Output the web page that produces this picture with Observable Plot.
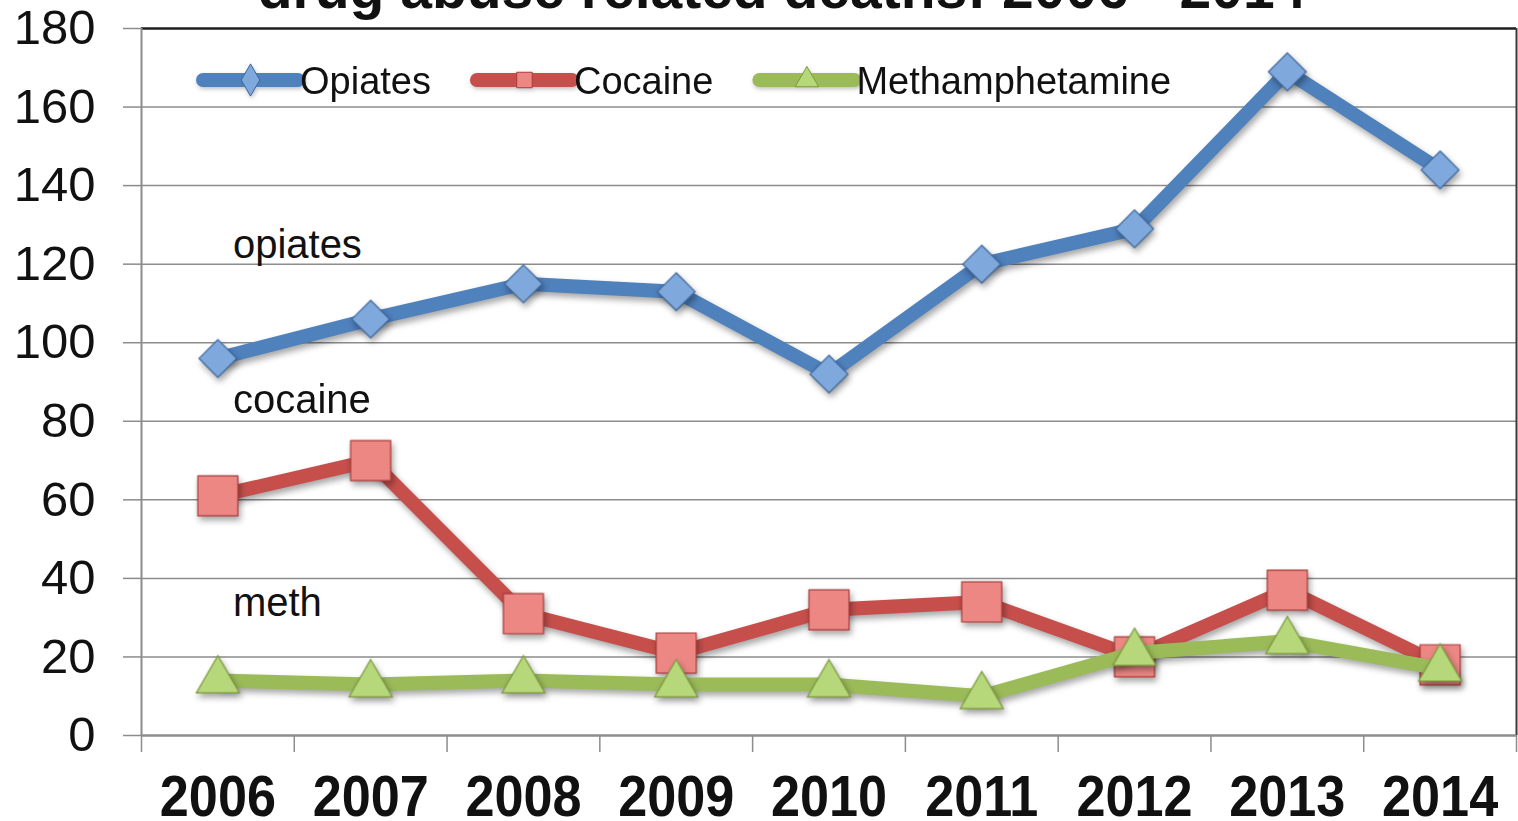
<!DOCTYPE html>
<html>
<head>
<meta charset="utf-8">
<script src="https://cdn.jsdelivr.net/npm/d3@7"></script>
<script src="https://cdn.jsdelivr.net/npm/@observablehq/plot@0.6"></script>
<style>
  html, body { margin: 0; padding: 0; background: #fff; }
  #chart { position: relative; width: 1518px; height: 821px; overflow: hidden; }
  #legend { position: absolute; left: 0; top: 0; pointer-events: none; }
</style>
</head>
<body>
<div id="chart"></div>
<script>
// Drug abuse related deaths per year, by drug
const years = [2006, 2007, 2008, 2009, 2010, 2011, 2012, 2013, 2014];
const opiates = [96, 106, 115, 113, 92, 120, 129, 169, 144];
const cocaine = [61, 70, 31, 21, 32, 34, 20, 37, 18];
const meth = [14, 13, 14, 13, 13, 10, 21, 24, 17];
const seriesNames = ["Opiates", "Cocaine", "Methamphetamine"];
const yTicks = [0, 20, 40, 60, 80, 100, 120, 140, 160, 180];
const title = "drug abuse related deaths: 2006 - 2014";
const noteLabels = ["opiates", "cocaine", "meth"];
const noteValues = [124.8, 85.3, 33.6];

const FONT = "'Liberation Sans', Arial, Helvetica, sans-serif";
const lineColors = ["#4f81bd", "#c64f4b", "#9bbb59"];
const markerFill = ["#7fa8dc", "#ec8784", "#b6d77a"];
const markerStroke = ["#3a659a", "#a93c39", "#7c9a3e"];
const markerSymbol = ["diamond2", "square", "triangle"];
const markerR = [17, 22.6, 16];
const legendSymbol = [d3.symbolDiamond, d3.symbolSquare, d3.symbolTriangle];

const valuesBySeries = [opiates, cocaine, meth];
const rows = seriesNames.map((name, i) =>
  years.map((year, j) => ({series: name, year, value: valuesBySeries[i][j]}))
);
const notes = noteLabels.map((label, i) => ({label, year: years[0], value: noteValues[i]}));
const boundaries = d3.range(years[0] - 0.5, years[years.length - 1] + 1, 1);

const seriesMarks = rows.flatMap((data, i) => [
  Plot.line(data, {
    x: "year", y: "value",
    stroke: lineColors[i], strokeWidth: 14,
    strokeLinejoin: "round", strokeLinecap: "butt"
  }),
  Plot.dot(data, {
    x: "year", y: "value",
    symbol: markerSymbol[i], r: markerR[i],
    fill: markerFill[i], stroke: markerStroke[i], strokeWidth: 1.2
  })
]);

const chart = Plot.plot({
  width: 1518,
  height: 821,
  marginLeft: 141,
  marginRight: 2,
  marginTop: 28,
  marginBottom: 86,
  style: {fontFamily: FONT, background: "#fff", color: "#111"},
  x: {domain: [years[0] - 0.5, years[years.length - 1] + 0.5]},
  y: {domain: [0, 180]},
  marks: [
    // horizontal gridlines
    Plot.ruleY(yTicks.slice(1, -1), {stroke: "#8c8c8c", strokeWidth: 1.5}),
    // plot frame: top and right edges
    Plot.ruleY([180], {stroke: "#1e1e1e", strokeWidth: 2.5}),
    Plot.ruleX([years[years.length - 1] + 0.5], {stroke: "#3a3a3a", strokeWidth: 2}),
    // axis lines
    Plot.ruleX([years[0] - 0.5], {stroke: "#8c8c8c", strokeWidth: 2}),
    Plot.ruleY([0], {stroke: "#8c8c8c", strokeWidth: 2.5}),
    Plot.axisY({
      ticks: yTicks, tickSize: 18, tickPadding: 28,
      fontSize: 49, stroke: "#8c8c8c", strokeWidth: 1.5, label: null
    }),
    Plot.axisX({
      ticks: boundaries, tickSize: 17, tickFormat: () => "",
      stroke: "#8c8c8c", strokeWidth: 1.5, label: null
    }),
    Plot.axisX({
      ticks: years, tickSize: 0, tickPadding: 39, tickFormat: "d",
      fontSize: 58, fontWeight: "bold", label: null
    }),
    // series
    ...seriesMarks,
    // in-chart notes
    Plot.text(notes, {
      x: "year", y: "value", text: "label",
      textAnchor: "start", dx: 15, fontSize: 40, fill: "#111"
    }),
    // title (runs off the top edge)
    Plot.text([title], {
      frameAnchor: "top", lineAnchor: "bottom", dy: -21, dx: -47,
      fontSize: 57, fontWeight: "bold", fill: "#111"
    })
  ]
});

document.getElementById("chart").appendChild(chart);

// condensed bold year labels
const yearSet = new Set(years.map(String));
d3.select(chart).selectAll("text").each(function() {
  if (!yearSet.has(this.textContent.trim())) return;
  const b = this.getBBox();
  const cx = b.x + b.width / 2;
  const t = this.getAttribute("transform") || "";
  this.setAttribute("transform", `${t} translate(${cx},0) scale(0.9,1) translate(${-cx},0)`);
});

// soft drop shadow under the series lines and markers
d3.select(chart).selectAll('g[aria-label="line"], g[aria-label="dot"]')
  .style("filter", "drop-shadow(2px 4px 3px rgba(0,0,0,0.35))");

// legend inside the top of the plot area
const legend = d3.select("#chart").append("svg")
  .attr("id", "legend").attr("width", 1518).attr("height", 821);
let lx = 203;
seriesNames.forEach((name, i) => {
  const g = legend.append("g")
    .style("filter", "drop-shadow(1px 2px 2px rgba(0,0,0,0.25))");
  g.append("line")
    .attr("x1", lx).attr("x2", lx + 95).attr("y1", 80).attr("y2", 80)
    .attr("stroke", lineColors[i]).attr("stroke-width", 14)
    .attr("stroke-linecap", "round");
  g.append("path")
    .attr("d", d3.symbol(legendSymbol[i], i === 0 ? 300 : 240)())
    .attr("transform", `translate(${lx + 47.5},80)`)
    .attr("fill", markerFill[i]).attr("stroke", markerStroke[i]).attr("stroke-width", 1);
  const txt = legend.append("text")
    .attr("x", lx + 97).attr("y", 94)
    .attr("font-family", FONT).attr("font-size", 38).attr("fill", "#111")
    .text(name);
  lx += 97 + txt.node().getComputedTextLength() + 46;
});
</script>
</body>
</html>
